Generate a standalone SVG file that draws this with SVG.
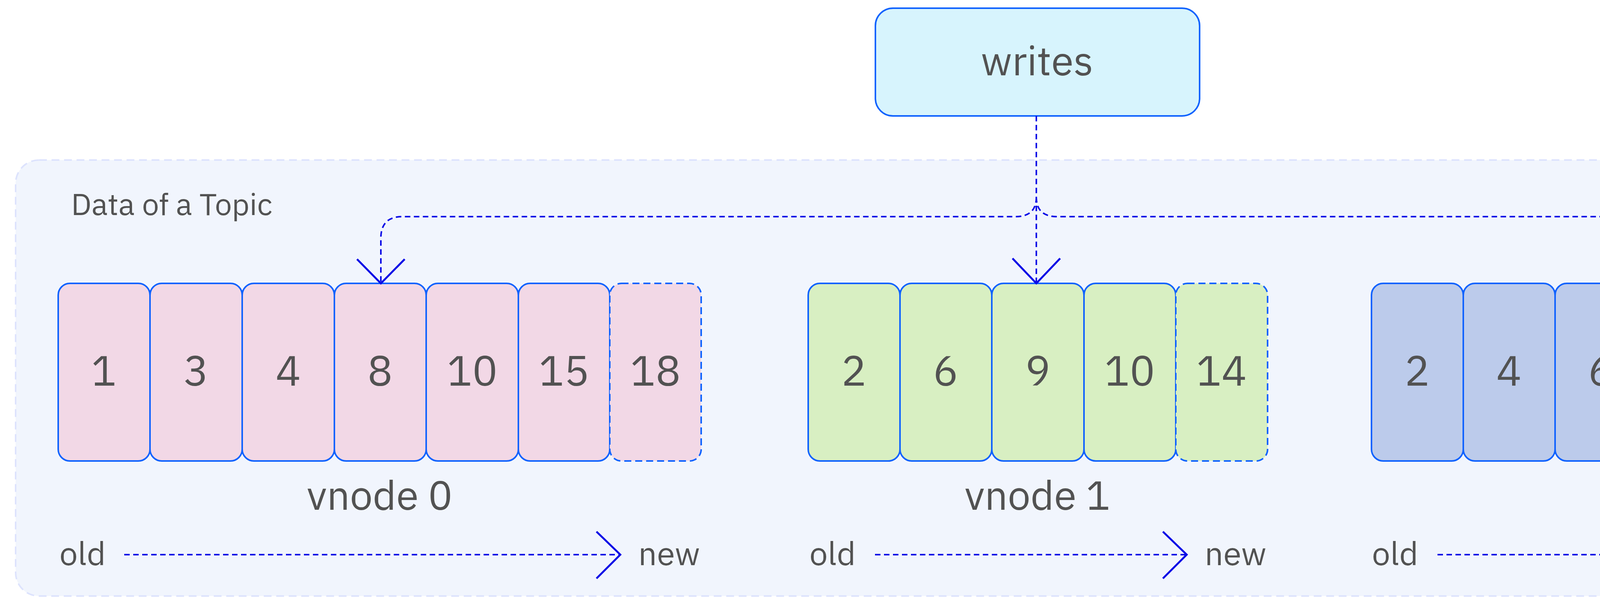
<svg xmlns="http://www.w3.org/2000/svg" width="5314" height="1550" viewBox="0 0 5314 1550">
<style>
text{font-family:"IBM Plex Sans","Noto Sans","Liberation Sans",sans-serif;fill:#525252}
.c{stroke:#0f62fe;stroke-width:4}
.d{stroke-dasharray:18 10}
.p{fill:#f2d8e6}.g{fill:#d8efc2}.b{fill:#bccbeb}
.n{font-size:108px;text-anchor:middle}
.v{font-size:104px;text-anchor:middle}
.o{font-size:84px}
.ln{fill:none;stroke:#0a0ae6;stroke-width:4;stroke-dasharray:14 9}
.ah{fill:none;stroke:#0a0ae6;stroke-width:5}
</style>
<g id="container">
<rect x="40" y="410" width="5233" height="1117" rx="60" fill="#f1f5fd" stroke="#dde3fd" stroke-width="4" stroke-dasharray="20 12"/>
<text x="182" y="551" style="font-size:78px">Data of a Topic</text>
</g>
<g id="writes">
<rect x="2241" y="21" width="830" height="276" rx="45" fill="#d7f4fd" class="c"/>
<text x="2655" y="193" style="font-size:104px;text-anchor:middle">writes</text>
</g>
<g id="vnode0">
<rect class="c p" x="149" y="726" width="235" height="455" rx="30"/><text class="n" x="266" y="988">1</text>
<rect class="c p" x="384" y="726" width="236" height="455" rx="30"/><text class="n" x="502" y="988">3</text>
<rect class="c p" x="620" y="726" width="236" height="455" rx="30"/><text class="n" x="738" y="988">4</text>
<rect class="c p" x="856" y="726" width="235" height="455" rx="30"/><text class="n" x="973" y="988">8</text>
<rect class="c p" x="1091" y="726" width="236" height="455" rx="30"/><text class="n" x="1209" y="988">10</text>
<rect class="c p" x="1327" y="726" width="234" height="455" rx="30"/><text class="n" x="1444" y="988">15</text>
<rect class="c p d" x="1561" y="726" width="234" height="455" rx="30"/><text class="n" x="1678" y="988">18</text>
<text class="v" x="972" y="1306">vnode 0</text>
<text class="o" x="152" y="1448">old</text>
<text class="o" x="1792" y="1448" text-anchor="end">new</text>
</g>
<g id="vnode1">
<rect class="c g" x="2069" y="726" width="235" height="455" rx="30"/><text class="n" x="2186" y="988">2</text>
<rect class="c g" x="2304" y="726" width="235" height="455" rx="30"/><text class="n" x="2421" y="988">6</text>
<rect class="c g" x="2539" y="726" width="236" height="455" rx="30"/><text class="n" x="2657" y="988">9</text>
<rect class="c g" x="2775" y="726" width="235" height="455" rx="30"/><text class="n" x="2892" y="988">10</text>
<rect class="c g d" x="3010" y="726" width="235" height="455" rx="30"/><text class="n" x="3127" y="988">14</text>
<text class="v" x="2656" y="1306">vnode 1</text>
<text class="o" x="2072" y="1448">old</text>
<text class="o" x="3242" y="1448" text-anchor="end">new</text>
</g>
<g id="vnode2">
<rect class="c b" x="3511" y="726" width="235" height="455" rx="30"/><text class="n" x="3628" y="988">2</text>
<rect class="c b" x="3746" y="726" width="235" height="455" rx="30"/><text class="n" x="3863" y="988">4</text>
<rect class="c b" x="3981" y="726" width="235" height="455" rx="30"/><text class="n" x="4098" y="988">6</text>
<rect class="c b" x="4216" y="726" width="235" height="455" rx="30"/><text class="n" x="4333" y="988">7</text>
<rect class="c b" x="4451" y="726" width="235" height="455" rx="30"/><text class="n" x="4568" y="988">10</text>
<rect class="c b" x="4686" y="726" width="235" height="455" rx="30"/><text class="n" x="4803" y="988">15</text>
<rect class="c b d" x="4921" y="726" width="235" height="455" rx="30"/><text class="n" x="5038" y="988">16</text>
<text class="v" x="4333" y="1306">vnode 2</text>
<text class="o" x="3512" y="1448">old</text>
<text class="o" x="5154" y="1448" text-anchor="end">new</text>
</g>
<g id="connectors">
<path class="ln" d="M2653 297 V726"/>
<path class="ah" d="M2592 662 L2653 726 L2714 662"/>
<path class="ln" d="M2653 505 Q2653 555 2600 555 H1030 Q975 555 975 610 V726"/>
<path class="ah" d="M914 664 L975 726 L1036 664"/>
<path class="ln" d="M2653 505 Q2653 555 2706 555 H4278 Q4333 555 4333 610 V726"/>
<path class="ah" d="M4272 664 L4333 726 L4394 664"/>
<path class="ln" d="M318 1421 H1588"/>
<path class="ah" d="M1527 1362 L1588 1421 L1527 1482"/>
<path class="ln" d="M2240 1421 H3038"/>
<path class="ah" d="M2977 1362 L3038 1421 L2977 1482"/>
<path class="ln" d="M3680 1421 H4949"/>
<path class="ah" d="M4888 1362 L4949 1421 L4888 1482"/>
</g>
</svg>
